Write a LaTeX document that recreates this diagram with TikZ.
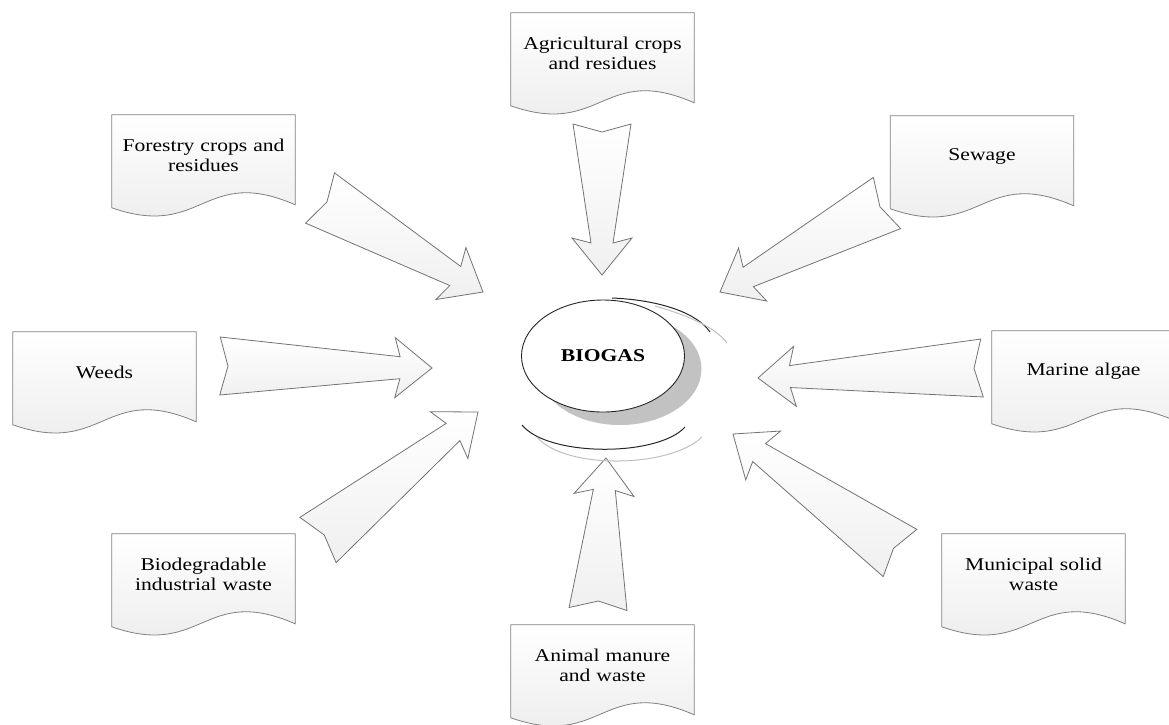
\documentclass[tikz,border=0pt]{standalone}
\usepackage{fontspec}
\setmainfont{Liberation Serif}[FakeStretch=1.2]
\usetikzlibrary{calc, shapes.geometric, shadows, backgrounds}
\tikzset{
	docbox/.style={rectangle, minimum width=183pt, minimum height=80pt, text width=175pt, align=center, inner sep=0pt, font=\fontsize{18}{20}\selectfont},
	docline/.style={draw=black!50, line width=0.8pt, top color=white, bottom color=black!8},
	blockarrow/.style={draw=black!55, line width=0.8pt, top color=white, bottom color=black!6, line join=miter},
	hub/.style={ellipse, draw=black!85, line width=0.9pt, fill=white, minimum width=163pt, minimum height=112pt, inner sep=0pt, font=\bfseries\fontsize{18}{20}\selectfont, drop shadow={shadow xshift=17pt, shadow yshift=-13pt, fill=black!24, opacity=1}},
	ringdark/.style={draw=black!85, line width=1pt},
	ringlight/.style={draw=black!25, line width=1pt},
}
% document outline below a docbox node
\newcommand{\docoutline}[1]{%
	\draw[docline] (#1.north west) -- (#1.north east) -- ($(#1.north east)+(0,90)$)
		.. controls ($(#1.north east)+(-91.5,50)$) and ($(#1.north west)+(91.5,125)$) .. ($(#1.north west)+(0,93)$) -- cycle;}
% tapered block arrow from tail to tip
\newcommand{\bigarrow}[2]{%
	\coordinate (hb) at ($(#2)!32pt!(#1)$);
	\coordinate (hc) at ($(#2)!37pt!(#1)$);
	\draw[blockarrow] ($(#1)!29pt!90:(#2)$) -- ($(hb)!11pt!90:(#2)$) -- ($(hc)!30pt!90:(#2)$) -- (#2)
		-- ($(hc)!30pt!-90:(#2)$) -- ($(hb)!11pt!-90:(#2)$) -- ($(#1)!29pt!-90:(#2)$) -- ($(#1)!8pt!(#2)$) -- cycle;}

\begin{document}
\begin{tikzpicture}[x=1pt, y=-1pt]
	\useasboundingbox (0,0) rectangle (1169,724);
	% sources
	\node[docbox] (agri) at (602.5,53) {Agricultural crops\\and residues};
	\node[docbox] (forest) at (203.5,155) {Forestry crops and\\residues};
	\node[docbox] (sewage) at (982,156) {Sewage};
	\node[docbox] (weeds) at (104.5,372) {Weeds};
	\node[docbox] (marine) at (1083.5,371) {Marine algae};
	\node[docbox] (biodeg) at (203.5,574) {Biodegradable\\industrial waste};
	\node[docbox] (municipal) at (1033.5,574) {Municipal solid\\waste};
	\node[docbox] (animal) at (602.5,665) {Animal manure\\and waste};
	% centre
	\node[hub] (bio) at (603,356) {BIOGAS};
	\draw[ringdark] (612,298) .. controls (660,300) and (697,313) .. (710,332);
	\draw[ringlight] (655,306) .. controls (690,316) and (716,328) .. (727,343);
	\draw[ringdark] (522,425) .. controls (548,457) and (658,457) .. (685,427);
	\draw[ringlight] (537,437) .. controls (565,470) and (670,468) .. (702,437);
	% arrow ends
	\coordinate (agri-tail) at (602,124);
	\coordinate (agri-tip) at (602,275);
	\coordinate (forest-tail) at (320,198);
	\coordinate (forest-tip) at (483,292);
	\coordinate (sewage-tail) at (887,203);
	\coordinate (sewage-tip) at (720,292);
	\coordinate (weeds-tail) at (220,366);
	\coordinate (weeds-tip) at (432,368);
	\coordinate (marine-tail) at (982,368);
	\coordinate (marine-tip) at (758,378);
	\coordinate (biodeg-tail) at (318,540);
	\coordinate (biodeg-tip) at (478,412);
	\coordinate (municipal-tail) at (900,553);
	\coordinate (municipal-tip) at (733,434);
	\coordinate (animal-tail) at (598,609);
	\coordinate (animal-tip) at (606,458);
	\begin{scope}[on background layer]
		\foreach \n in {agri,forest,sewage,weeds,marine,biodeg,municipal,animal} {\docoutline{\n}}
		\foreach \n in {agri,forest,sewage,weeds,marine,biodeg,municipal,animal} {\bigarrow{\n-tail}{\n-tip}}
	\end{scope}
\end{tikzpicture}
\end{document}
